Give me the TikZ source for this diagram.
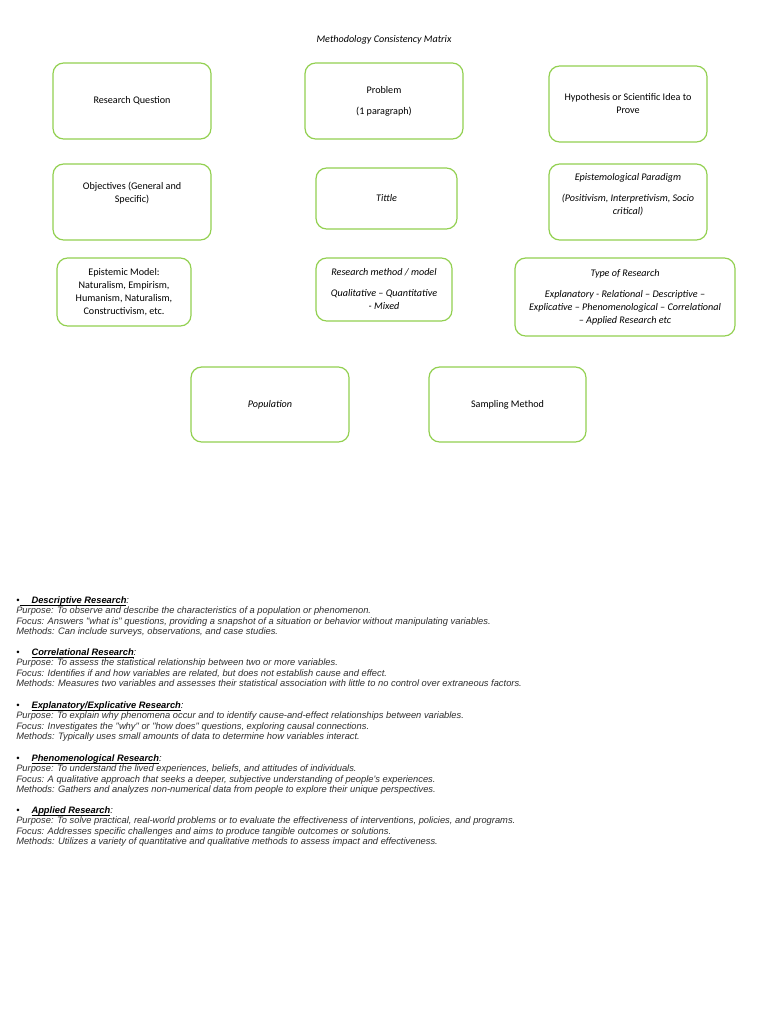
\documentclass[tikz,border=0pt]{standalone}
\usepackage{fontspec}
\setmainfont{Carlito}
\newfontfamily\arialfont{Liberation Sans}
\usetikzlibrary{positioning}
\definecolor{boxgreen}{RGB}{146,208,80}

\begin{document}
\begin{tikzpicture}[x=0.75pt, y=-0.75pt]
  \tikzstyle{box}=[draw=boxgreen, line width=0.9pt, rounded corners=8pt, align=center, inner sep=2pt,
    font=\fontsize{7.6}{9.75}\selectfont, minimum width=118.5pt, minimum height=57pt]
  \tikzstyle{notes}=[anchor=north west, align=left, inner sep=0pt,
    font=\arialfont\itshape\fontsize{7}{7.9}\selectfont, text=black!82]
  \newcommand{\notehead}[1]{\raisebox{0pt}[\height][0pt]{\color{black}\textbullet\hspace{9pt}\underline{\smash{\bfseries #1}}:}}

  \useasboundingbox[fill=white] (0,0) rectangle (768,1024);

  \node[font=\itshape\fontsize{7.6}{9.75}\selectfont] (title) at (384,40) {Methodology Consistency Matrix};

  % first row
  \node[box] (question) at (132,101) {Research Question};
  \node[box] (problem) at (384,101) {Problem\\[6pt](1 paragraph)};
  \node[box] (hypothesis) at (628,104) {Hypothesis or Scientific Idea to\\Prove};

  % second row
  \node[box, text depth=15pt] (objectives) at (132,202) {Objectives (General and\\Specific)};
  \node[box, minimum width=105.75pt, minimum height=45.75pt, font=\itshape\fontsize{7.6}{9.75}\selectfont] (tittle) at (386.5,198.5) {Tittle};
  \node[box, text depth=12pt, font=\itshape\fontsize{7.6}{9.75}\selectfont] (paradigm) at (628,202)
    {Epistemological Paradigm\\[6pt](Positivism, Interpretivism, Socio\\critical)};

  % third row
  \node[box, minimum width=100.5pt, minimum height=51pt] (model) at (124,292)
    {Epistemic Model:\\Naturalism, Empirism,\\Humanism, Naturalism,\\Constructivism, etc.};
  \node[box, minimum width=102pt, minimum height=47.25pt, font=\itshape\fontsize{7.6}{9.75}\selectfont] (method) at (384,289.5)
    {Research method / model\\[6pt]Qualitative -- Quantitative\\- Mixed};
  \node[box, minimum width=165pt, minimum height=58.5pt, font=\itshape\fontsize{7.6}{9.75}\selectfont] (type) at (625,297)
    {Type of Research\\[6pt]Explanatory - Relational -- Descriptive --\\Explicative -- Phenomenological -- Correlational\\-- Applied Research etc};

  % fourth row
  \node[box, minimum height=56.25pt, font=\itshape\fontsize{7.6}{9.75}\selectfont] (population) at (270,404.5) {Population};
  \node[box, minimum width=117.75pt, minimum height=56.25pt] (sampling) at (507.5,404.5) {Sampling Method};

  % notes below the matrix
  \node[notes] (descriptive) at (16,598)
    {\raisebox{0pt}[\height][0pt]{\color{black}\textbullet\underline{\smash{\hspace{9pt}\bfseries Descriptive Research}}:}\\
    Purpose: To observe and describe the characteristics of a population or phenomenon.\\
    Focus: Answers "what is" questions, providing a snapshot of a situation or behavior without manipulating variables.\\
    Methods: Can include surveys, observations, and case studies.};
  \node[notes] (correlational) at (16,650) {\notehead{Correlational Research}\\
    Purpose: To assess the statistical relationship between two or more variables.\\
    Focus: Identifies if and how variables are related, but does not establish cause and effect.\\
    Methods: Measures two variables and assesses their statistical association with little to no control over extraneous factors.};
  \node[notes] (explanatory) at (16,703) {\notehead{Explanatory/Explicative Research}\\
    Purpose: To explain why phenomena occur and to identify cause-and-effect relationships between variables.\\
    Focus: Investigates the "why" or "how does" questions, exploring causal connections.\\
    Methods: Typically uses small amounts of data to determine how variables interact.};
  \node[notes] (phenomenological) at (16,756) {\notehead{Phenomenological Research}\\
    Purpose: To understand the lived experiences, beliefs, and attitudes of individuals.\\
    Focus: A qualitative approach that seeks a deeper, subjective understanding of people's experiences.\\
    Methods: Gathers and analyzes non-numerical data from people to explore their unique perspectives.};
  \node[notes] (applied) at (16,808) {\notehead{Applied Research}\\
    Purpose: To solve practical, real-world problems or to evaluate the effectiveness of interventions, policies, and programs.\\
    Focus: Addresses specific challenges and aims to produce tangible outcomes or solutions.\\
    Methods: Utilizes a variety of quantitative and qualitative methods to assess impact and effectiveness.};
\end{tikzpicture}
\end{document}
